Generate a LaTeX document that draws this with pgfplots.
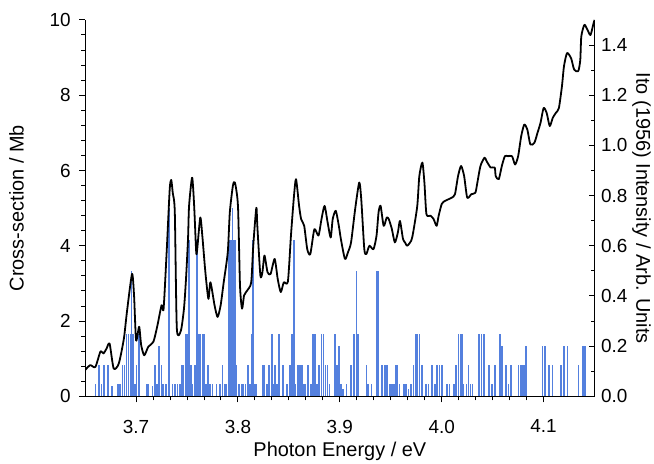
\documentclass[border=0pt]{standalone}
\usepackage{fontspec}
\setmainfont{Liberation Sans}
\setsansfont{Liberation Sans}
\usepackage{pgfplots}
\usepackage{pgfplotstable}
\pgfplotsset{compat=1.18}

\definecolor{stickblue}{RGB}{84,128,222}

% Measured cross-section (left axis, Mb)
\pgfplotstableread{
x y
3.650 0.70
3.655 0.83
3.660 0.78
3.665 1.19
3.668 1.14
3.671 1.27
3.674 1.40
3.678 0.74
3.683 0.87
3.688 1.53
3.691 2.24
3.696 3.25
3.698 2.68
3.700 1.49
3.703 1.85
3.705 1.36
3.708 1.09
3.712 1.32
3.717 1.45
3.721 1.89
3.725 2.42
3.727 2.33
3.730 3.83
3.733 5.50
3.7345 5.75
3.736 5.40
3.738 4.89
3.740 1.80
3.744 1.75
3.747 2.33
3.749 3.12
3.751 4.20
3.752 5.06
3.755 5.81
3.757 5.06
3.759 3.83
3.760 3.91
3.763 4.75
3.765 4.27
3.768 3.30
3.771 2.59
3.773 3.03
3.777 2.42
3.780 2.11
3.783 2.42
3.786 3.03
3.790 3.83
3.792 4.89
3.795 5.59
3.797 5.68
3.800 5.06
3.802 2.94
3.804 2.33
3.806 2.68
3.809 2.81
3.813 3.03
3.815 4.00
3.818 5.01
3.819 4.53
3.822 3.21
3.824 3.30
3.826 3.74
3.829 3.30
3.832 3.25
3.836 3.65
3.839 3.12
3.842 2.77
3.845 3.03
3.849 3.05
3.852 4.27
3.855 5.33
3.857 5.77
3.860 5.06
3.862 4.71
3.865 4.53
3.868 3.91
3.871 3.78
3.875 4.44
3.879 4.27
3.882 4.71
3.885 5.06
3.888 4.62
3.891 4.22
3.893 4.71
3.896 4.93
3.899 4.53
3.901 4.18
3.905 3.65
3.908 3.83
3.911 4.09
3.915 4.97
3.919 5.68
3.921 5.24
3.924 3.91
3.926 3.78
3.929 4.00
3.933 3.91
3.936 4.27
3.938 4.89
3.940 5.06
3.943 4.53
3.946 4.75
3.948 4.71
3.951 4.45
3.954 4.09
3.957 4.36
3.959 4.66
3.962 4.18
3.964 4.09
3.966 4.00
3.970 4.13
3.972 4.36
3.976 5.06
3.978 5.85
3.981 6.21
3.983 5.68
3.985 4.84
3.989 4.80
3.992 4.71
3.995 4.53
3.997 4.80
4.000 5.11
4.003 5.19
4.007 5.24
4.010 5.28
4.013 5.37
4.016 5.85
4.019 6.12
4.022 5.85
4.025 5.28
4.029 5.37
4.033 5.41
4.035 5.68
4.038 6.12
4.042 6.34
4.044 6.25
4.048 6.08
4.052 6.08
4.053 5.85
4.056 5.77
4.059 6.12
4.062 6.38
4.065 6.38
4.069 6.38
4.072 6.16
4.075 6.38
4.078 6.91
4.081 7.22
4.084 7.09
4.087 6.69
4.091 6.74
4.094 7.00
4.097 7.27
4.100 7.66
4.103 7.53
4.106 7.18
4.109 7.40
4.112 7.53
4.115 7.66
4.118 8.24
4.120 8.77
4.123 9.12
4.127 8.98
4.130 8.68
4.134 8.64
4.136 8.94
4.137 9.56
4.140 9.87
4.143 9.74
4.146 9.60
4.149 9.91
4.150 10.00
}\crosssection

% Ito (1956) line intensities (right axis, arb. units)
\pgfplotstableread{
x h
3.6603 0.05
3.6636 0.125
3.6659 0.05
3.6685 0.125
3.6724 0.125
3.6764 0.04
3.6823 0.05
3.6839 0.05
3.6866 0.125
3.6886 0.125
3.6905 0.25
3.6925 0.25
3.6944 0.25
3.6954 0.5
3.6970 0.25
3.6987 0.05
3.7003 0.125
3.7029 0.25
3.7102 0.05
3.7118 0.05
3.7161 0.04
3.7183 0.125
3.7206 0.05
3.7223 0.2
3.7249 0.125
3.7265 0.05
3.7292 0.05
3.7324 0.75
3.7357 0.05
3.7380 0.05
3.7407 0.05
3.7429 0.05
3.7446 0.125
3.7462 0.125
3.7488 0.25
3.7501 0.25
3.7521 0.625
3.7537 0.125
3.7554 0.05
3.7577 0.125
3.7599 0.625
3.7619 0.25
3.7633 0.25
3.7652 0.25
3.7668 0.25
3.7685 0.05
3.7708 0.125
3.7724 0.05
3.7751 0.05
3.7790 0.05
3.7823 0.05
3.7849 0.125
3.7872 0.05
3.7888 0.05
3.7914 0.625
3.7931 0.625
3.7947 0.75
3.7963 0.625
3.7975 0.625
3.7987 0.125
3.8012 0.05
3.8036 0.05
3.8052 0.05
3.8075 0.05
3.8101 0.125
3.8118 0.05
3.8134 0.25
3.8150 0.625
3.8167 0.05
3.8183 0.05
3.8242 0.125
3.8255 0.125
3.8282 0.05
3.8307 0.125
3.8331 0.25
3.8347 0.05
3.8363 0.125
3.8380 0.05
3.8403 0.25
3.8439 0.125
3.8478 0.05
3.8508 0.125
3.8531 0.25
3.8550 0.625
3.8563 0.05
3.8590 0.125
3.8606 0.125
3.8629 0.125
3.8649 0.05
3.8661 0.05
3.8688 0.125
3.8714 0.05
3.8734 0.25
3.8754 0.25
3.8773 0.05
3.8793 0.125
3.8819 0.25
3.8838 0.25
3.8858 0.125
3.8878 0.125
3.8897 0.05
3.8950 0.25
3.8970 0.125
3.8990 0.2
3.9009 0.05
3.9032 0.03
3.9065 0.05
3.9108 0.125
3.9140 0.25
3.9163 0.5
3.9180 0.25
3.9261 0.125
3.9278 0.05
3.9310 0.05
3.9359 0.5
3.9373 0.5
3.9416 0.125
3.9442 0.125
3.9462 0.125
3.9494 0.05
3.9511 0.05
3.9534 0.05
3.9553 0.125
3.9566 0.125
3.9586 0.05
3.9632 0.05
3.9652 0.05
3.9674 0.03
3.9698 0.05
3.9723 0.125
3.9750 0.25
3.9763 0.25
3.9782 0.25
3.9806 0.125
3.9848 0.05
3.9871 0.05
3.9904 0.125
3.9937 0.05
3.9953 0.125
3.9979 0.125
4.0003 0.125
4.0052 0.05
4.0077 0.05
4.0117 0.05
4.0143 0.125
4.0166 0.25
4.0183 0.25
4.0199 0.25
4.0215 0.05
4.0242 0.05
4.0264 0.125
4.0281 0.05
4.0301 0.05
4.0363 0.25
4.0389 0.25
4.0412 0.25
4.0461 0.125
4.0494 0.05
4.0524 0.125
4.0569 0.25
4.0589 0.2
4.0628 0.125
4.0655 0.05
4.0677 0.125
4.0753 0.125
4.0775 0.125
4.0792 0.125
4.0809 0.125
4.0825 0.2
4.0989 0.2
4.1015 0.2
4.1055 0.125
4.1087 0.125
4.1169 0.125
4.1202 0.2
4.1235 0.2
4.1343 0.125
4.1389 0.2
4.1409 0.2
}\itolines

\begin{document}
\begin{tikzpicture}[font=\fontsize{19bp}{22bp}\selectfont]
\pgfplotsset{
  every axis/.append style={
    width=511.5bp, height=378bp, scale only axis,
    xmin=3.65, xmax=4.15,
    axis line style={line width=1.1bp},
    every tick/.style={black, line width=1bp},
    major tick length=6bp, minor tick length=4bp,
    /pgf/number format/assume math mode=true,
    ticklabel style={font=\fontsize{19bp}{22bp}\selectfont},
    label style={font=\fontsize{20bp}{24bp}\selectfont},
  },
}
% right axis: stick spectrum
\begin{axis}[
  name=ito,
  axis x line=none,
  axis y line*=right,
  ymin=0, ymax=1.5,
  ytick={0,0.2,...,1.4},
  minor y tick num=1,
  tick align=inside,
  yticklabel style={xshift=3bp, /pgf/number format/.cd, fixed, fixed zerofill, precision=1},
  ylabel={Ito (1956) Intensity / Arb. Units},
  ylabel style={at={(axis description cs:1.092,0.5)}, anchor=center, rotate=180},
]
\addplot[ycomb, draw=stickblue, line width=1.7bp] table[x=x, y=h] {\itolines};
\end{axis}
% left axis: cross-section
\begin{axis}[
  axis x line*=bottom,
  axis y line*=left,
  ymin=0, ymax=10,
  ytick={0,2,...,10},
  minor y tick num=4,
  xtick={3.7,3.8,...,4.1},
  minor x tick num=5,
  tick align=outside,
  xticklabel style={yshift=-14bp, /pgf/number format/.cd, fixed, fixed zerofill, precision=1},
  yticklabel style={xshift=-5bp},
  xlabel={Photon Energy / eV},
  xlabel style={at={(axis description cs:0.5,-0.145)}, anchor=center},
  ylabel={Cross-section / Mb},
  ylabel style={at={(axis description cs:-0.135,0.5)}, anchor=center},
]
\addplot[black, line width=1.8bp, line join=round, smooth, tension=0.4] table[x=x, y=y] {\crosssection};
\end{axis}
\path[use as bounding box] ([xshift=-85.5bp, yshift=-62bp]ito.south west) rectangle ([xshift=57bp, yshift=20bp]ito.north east);
\end{tikzpicture}
\end{document}
